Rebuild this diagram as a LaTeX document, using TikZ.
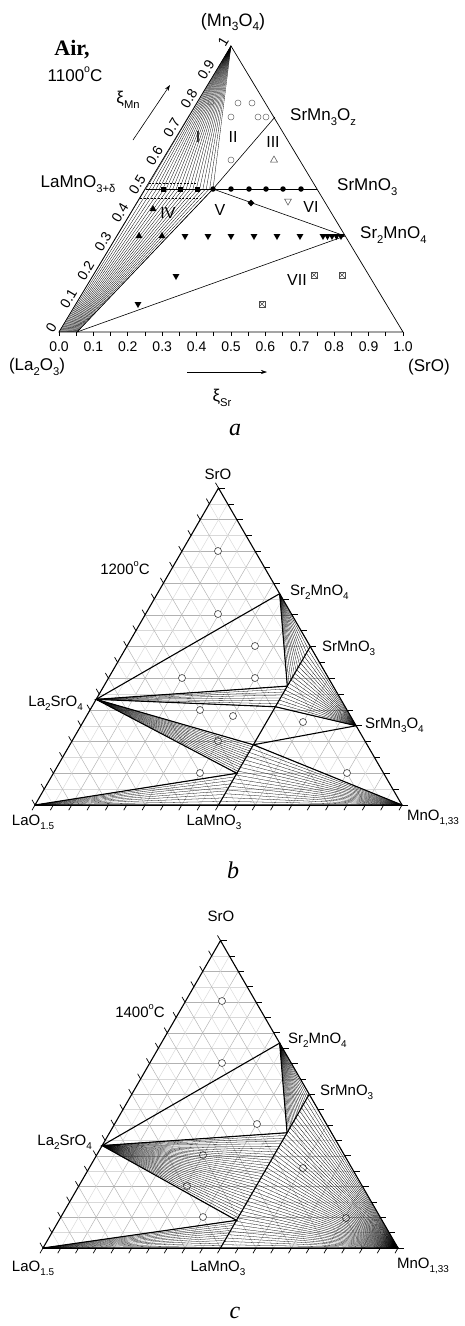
\documentclass[tikz,border=0pt]{standalone}
\usepackage{fontspec}
\setmainfont{Liberation Sans}
\newfontfamily\capfont{Liberation Serif}
\usetikzlibrary{calc,shapes.geometric,arrows.meta}
\newcommand{\lo}[1]{\raisebox{-0.5ex}{\scalebox{0.66}{#1}}}
\newcommand{\hi}[1]{\raisebox{0.95ex}{\scalebox{0.62}{#1}}}
\tikzset{
  edgeA/.style={line width=0.7pt},
  lnA/.style={line width=0.6pt},
  fanA/.style={line width=0.3pt},
  edgeB/.style={line width=1.1pt},
  thk/.style={line width=1.1pt},
  fanB/.style={line width=0.28pt},
  tk/.style={line width=0.7pt},
  lbA/.style={font=\fontsize{17}{20}\selectfont, inner sep=0pt},
  lbB/.style={font=\fontsize{15}{18}\selectfont, inner sep=0pt},
  tkA/.style={font=\fontsize{14}{16}\selectfont, inner sep=0pt},
  rom/.style={font=\fontsize{16}{18}\selectfont, inner sep=0pt},
  panelcap/.style={font=\capfont\itshape\fontsize{24}{26}\selectfont, inner sep=0pt},
  fsq/.style={rectangle, fill=black, inner sep=0pt, minimum size=5pt},
  fci/.style={circle, fill=black, inner sep=0pt, minimum size=5.5pt},
  ftu/.style={regular polygon, regular polygon sides=3, fill=black, inner sep=0pt, minimum size=8pt},
  ftd/.style={ftu, shape border rotate=180},
  otu/.style={regular polygon, regular polygon sides=3, draw=black!70, line width=0.5pt, inner sep=0pt, minimum size=8pt},
  otd/.style={otu, shape border rotate=180},
  oci/.style={circle, draw=black!60, line width=0.5pt, inner sep=0pt, minimum size=6pt},
  ocb/.style={circle, draw=black!75, fill=white, line width=0.6pt, inner sep=0pt, minimum size=7pt},
  fdi/.style={diamond, fill=black, inner sep=0pt, minimum size=7pt},
  xsq/.style={rectangle, draw=black!70, line width=0.5pt, inner sep=0pt, minimum size=5.5pt,
    path picture={\draw[black!70,line width=0.4pt] (path picture bounding box.south west) -- (path picture bounding box.north east) (path picture bounding box.north west) -- (path picture bounding box.south east);}},
}
\begin{document}
\begin{tikzpicture}[x=1pt,y={(0pt,-1pt)}]
\useasboundingbox (0,0) rectangle (464,1326);
\fill[white] (0,0) rectangle (464,1326);

% ================= PANEL A =================
\coordinate (aL) at (59,332);
\coordinate (aR) at (403,332);
\coordinate (aT) at (231,46);
\coordinate (aLM) at (145.5,189);
\coordinate (aSM) at (317,189);
\coordinate (aX) at (213,189);
\coordinate (aSMz) at (275,117);
\coordinate (aS2) at (345,236);
\coordinate (aB) at (77,332);
% fans
\foreach \i in {0,...,20} \draw[fanA] (aT) -- ({146+67*\i/20},189);
\foreach \i in {0,...,18} \draw[fanA] ({59+18*\i/18},332) -- ({145.5+67.5*\i/18},189);
\draw[fanA,dash pattern=on 2pt off 1.5pt] (148.6,183) -- (197,183);
\draw[fanA,dash pattern=on 2pt off 1.5pt] (140,198) -- (200,198);
% phase lines
\draw[lnA] (aLM) -- (aSM);
\draw[lnA] (aX) -- (aSMz);
\draw[lnA] (aX) -- (aS2);
\draw[lnA] (aX) -- (aB);
\draw[lnA] (aB) -- (aS2);
\draw[edgeA] (aL) -- (aR) -- (aT) -- cycle;
% bottom ticks
\foreach \i in {0,...,20} \draw[tk] ({59+17.2*\i},332) -- ++(0,4);
\foreach \k in {0,...,10} \node[tkA] at ({59+34.4*\k},347) {\ifnum\k=10 1.0\else 0.\k\fi};
% left labels
\foreach \k in {0,...,10} \node[tkA, rotate=59] at ({59+17.2*\k-7.7},{332-28.6*\k-4.6}) {\ifnum\k=0 0\else\ifnum\k=10 1\else 0.\k\fi\fi};
% markers
\foreach \x in {163,180,197} \node[fsq] at (\x,189) {};
\foreach \x in {213,231,249,266,283,301} \node[fci] at (\x,189) {};
\node[fdi] at (251,203) {};
\foreach \p in {(211,102),(238,103),(252,103),(231,117),(258,117),(266,117),(231,160)} \node[oci] at \p {};
\node[otu] at (274,160) {};
\node[otd] at (288,201) {};
\foreach \p in {(153,209),(139,236),(162,236)} \node[ftu] at \p {};
\foreach \x in {185,208,231,254,277,300,323,327.5,332,336.5,341} \node[ftd] at (\x,236) {};
\node[ftd] at (176,276) {};
\node[ftd] at (138,304) {};
\foreach \p in {(314,275),(342,275),(262,304)} \node[xsq] at \p {};
% region labels
\node[rom] at (198,137) {I};
\node[rom] at (233,137) {II};
\node[rom] at (273,142) {III};
\node[rom] at (168,213) {IV};
\node[rom] at (220,210) {V};
\node[rom] at (311,207) {VI};
\node[rom] at (297,280) {VII};
% texts
\node[lbA, font=\fontsize{18}{21}\selectfont] at (233,22) {(Mn\lo{3}O\lo{4})};
\node[font=\capfont\bfseries\fontsize{22}{24}\selectfont, inner sep=0pt] at (72,50) {Air,};
\node[lbA] at (75,74) {1100\hi{o}C};
\coordinate (aArS) at (133,140);
\coordinate (aArE) at (170,85);
\draw[line width=0.6pt,-{Stealth[length=6pt,width=4pt]}] (aArS) -- (aArE);
\node[lbA] at (128,100) {ξ\lo{Mn}};
\node[lbA,anchor=west] at (290,117) {SrMn\lo{3}O\lo{z}};
\node[lbA,anchor=west] at (337,187) {SrMnO\lo{3}};
\node[lbA,anchor=west] at (360,235) {Sr\lo{2}MnO\lo{4}};
\node[lbA] at (78,184) {LaMnO\lo{3+δ}};
\node[lbA] at (37,367) {(La\lo{2}O\lo{3})};
\node[lbA] at (429,367) {(SrO)};
\coordinate (aAr2S) at (187,372);
\coordinate (aAr2E) at (267,372);
\draw[line width=0.6pt,-{Stealth[length=6pt,width=4pt]}] (aAr2S) -- (aAr2E);
\node[lbA] at (222,398) {ξ\lo{Sr}};
\node[panelcap] at (235,430) {a};

% ================= PANEL B =================
\begin{scope}[shift={(35,805)}, x={(367pt,0pt)}, y={(183.5pt,317pt)}]
\foreach \i in {1,...,19}{
  \pgfmathtruncatemacro\pp{mod(\i,2)}
  \ifnum\pp=0 \def\gc{gray!60}\else\def\gc{gray!30}\fi
  \draw[\gc, line width=0.45pt] (0,\i/20) -- ({1-\i/20},\i/20);
  \draw[\gc, line width=0.45pt] (\i/20,0) -- (\i/20,{1-\i/20});
  \draw[\gc, line width=0.45pt] (\i/20,0) -- (0,\i/20);
}
\foreach \i in {0,...,20}{
  \draw[tk] (\i/20,0) -- ++(240:6pt);
  \draw[tk] ({1-\i/20},\i/20) -- ++(0:6pt);
  \draw[tk] (0,\i/20) -- ++(120:6pt);
}
\coordinate (bL) at (0,0);
\coordinate (bM) at (1,0);
\coordinate (bS) at (0,1);
\coordinate (bA) at (0,1/3);
\coordinate (bB) at (1/3,2/3);
\coordinate (bC) at (0.5,0.5);
\coordinate (bD) at (0.75,0.25);
\coordinate (bE) at (0.5,0);
\coordinate (bP1) at (0.5,0.375);
\coordinate (bP2) at (0.5,0.31);
\coordinate (bP3) at (0.5,0.19);
\coordinate (bP4) at (0.5,0.1);
\end{scope}
\foreach \p in {(218,551),(218,614),(255,646),(182,678),(255,678),(200,710),(233,716),(303,722),(218,741),(200,773),(347,773)} \node[ocb] at \p {};
\foreach \t in {0,...,13}{\pgfmathsetmacro\f{\t/13}\draw[fanB] (bB) -- ($(bC)!\f!(bP1)$);}
\foreach \t in {0,...,7}{\pgfmathsetmacro\f{\t/7}\draw[fanB] (bA) -- ($(bP1)!\f!(bP2)$);}
\foreach \t in {0,...,18}{\pgfmathsetmacro\f{\t/18}\draw[fanB] (bD) -- ($(bC)!\f!(bP2)$);}
\foreach \t in {0,...,14}{\pgfmathsetmacro\f{\t/14}\draw[fanB] (bA) -- ($(bP3)!\f!(bP4)$);}
\foreach \t in {0,...,16}{\pgfmathsetmacro\f{\t/16}\draw[fanB] (bM) -- ($(bP3)!\f!(bE)$);}
\foreach \t in {0,...,9}{\pgfmathsetmacro\f{\t/9}\draw[fanB] (bL) -- ($(bP4)!\f!(bE)$);}
\draw[thk] (bA) -- (bB) -- (bP1) -- cycle;
\draw[thk] (bA) -- (bP2);
\draw[thk] (bA) -- (bP3);
\draw[thk] (bA) -- (bP4) -- (bL);
\draw[thk] (bE) -- (bC);
\draw[thk] (bD) -- (bP2);
\draw[thk] (bD) -- (bP3) -- (bM);
\draw[edgeB] (bL) -- (bM) -- (bS) -- cycle;
\node[lbB] at (218,474) {SrO};
\node[lbB] at (125,568) {1200\hi{o}C};
\node[lbB,anchor=west] at (290,592) {Sr\lo{2}MnO\lo{4}};
\node[lbB,anchor=west] at (322,648) {SrMnO\lo{3}};
\node[lbB,anchor=west] at (365,725) {SrMn\lo{3}O\lo{4}};
\node[lbB,anchor=east] at (83,703) {La\lo{2}SrO\lo{4}};
\node[lbB] at (33,822) {LaO\lo{1.5}};
\node[lbB] at (214,822) {LaMnO\lo{3}};
\node[lbB] at (433,818) {MnO\lo{1,33}};
\node[panelcap] at (233,870) {b};

% ================= PANEL C =================
\begin{scope}[shift={(43,1248)}, x={(355pt,0pt)}, y={(177.5pt,307.4pt)}]
\foreach \i in {1,...,19}{
  \pgfmathtruncatemacro\pp{mod(\i,2)}
  \ifnum\pp=0 \def\gc{gray!60}\else\def\gc{gray!30}\fi
  \draw[\gc, line width=0.45pt] (0,\i/20) -- ({1-\i/20},\i/20);
  \draw[\gc, line width=0.45pt] (\i/20,0) -- (\i/20,{1-\i/20});
  \draw[\gc, line width=0.45pt] (\i/20,0) -- (0,\i/20);
}
\foreach \i in {0,...,20}{
  \draw[tk] (\i/20,0) -- ++(240:6pt);
  \draw[tk] ({1-\i/20},\i/20) -- ++(0:6pt);
  \draw[tk] (0,\i/20) -- ++(120:6pt);
}
\coordinate (cL) at (0,0);
\coordinate (cM) at (1,0);
\coordinate (cS) at (0,1);
\coordinate (cA) at (0,1/3);
\coordinate (cB) at (1/3,2/3);
\coordinate (cC) at (0.5,0.5);
\coordinate (cE) at (0.5,0);
\coordinate (cP1) at (0.5,0.375);
\coordinate (cP2) at (0.5,0.09);
\end{scope}
\foreach \p in {(222,1001),(222,1063),(257,1124),(203,1155),(303,1168),(187,1186),(203,1217),(346,1218)} \node[ocb] at \p {};
\foreach \t in {0,...,18}{\pgfmathsetmacro\f{\t/18}\draw[fanB] (cB) -- ($(cC)!\f!(cP1)$);}
\foreach \t in {0,...,32}{\pgfmathsetmacro\f{\t/32}\draw[fanB] (cA) -- ($(cP1)!\f!(cP2)$);}
\foreach \t in {0,...,46}{\pgfmathsetmacro\f{\t/46}\draw[fanB] (cM) -- ($(cC)!\f!(cE)$);}
\foreach \t in {0,...,11}{\pgfmathsetmacro\f{\t/11}\draw[fanB] (cL) -- ($(cP2)!\f!(cE)$);}
\draw[thk] (cA) -- (cB) -- (cP1) -- cycle;
\draw[thk] (cA) -- (cP2) -- (cL);
\draw[thk] (cE) -- (cC);
\draw[edgeB] (cL) -- (cM) -- (cS) -- cycle;
\node[lbB] at (221,916) {SrO};
\node[lbB] at (140,1011) {1400\hi{o}C};
\node[lbB,anchor=west] at (288,1040) {Sr\lo{2}MnO\lo{4}};
\node[lbB,anchor=west] at (320,1092) {SrMnO\lo{3}};
\node[lbB,anchor=east] at (92,1142) {La\lo{2}SrO\lo{4}};
\node[lbB] at (33,1268) {LaO\lo{1.5}};
\node[lbB] at (218,1268) {LaMnO\lo{3}};
\node[lbB] at (423,1266) {MnO\lo{1,33}};
\node[panelcap] at (235,1313) {c};
\end{tikzpicture}
\end{document}
